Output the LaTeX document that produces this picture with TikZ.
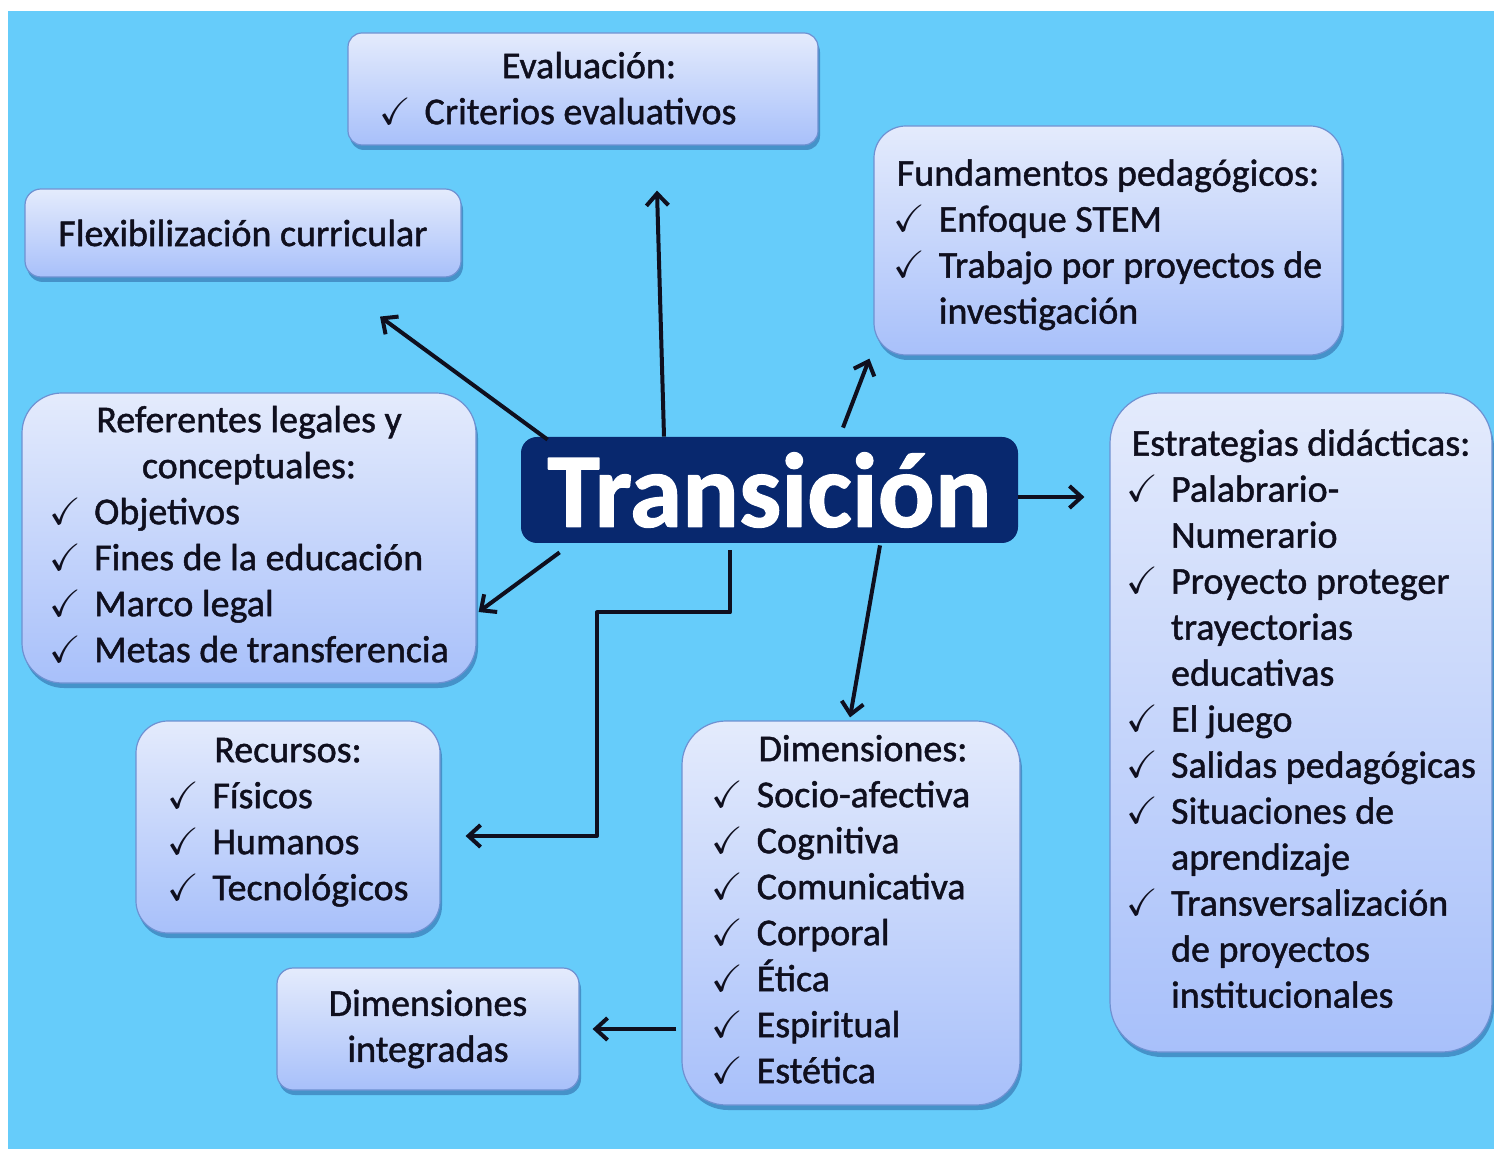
\documentclass[tikz,border=0pt]{standalone}
\usepackage{amsmath,amssymb}
\usepackage{fontspec}
\setmainfont{Carlito}[FakeBold=1.2]
\usepackage{tikz}
\usetikzlibrary{positioning,arrows.meta,calc,shadows}
\definecolor{tBack}{RGB}{102,204,250}
\definecolor{tNavy}{RGB}{8,40,110}
\definecolor{tTop}{RGB}{228,235,252}
\definecolor{tBottom}{RGB}{168,192,250}
\definecolor{tEdge}{RGB}{110,145,210}
\definecolor{tInk}{RGB}{15,15,30}
\newcommand{\ck}{\makebox[22.5pt][l]{$\boldsymbol{\checkmark}$}}
\newcommand{\sk}{\hspace*{22.5pt}}
\tikzset{
    base/.style={font=\fontsize{19}{23}\selectfont, text=tInk, align=center, inner sep=0pt},
    topic/.style={base, rectangle, rounded corners=#1, draw=tEdge, line width=0.6pt,
                  top color=tTop, bottom color=tBottom,
                  drop shadow={opacity=0.35, shadow xshift=1pt, shadow yshift=-2.5pt, fill=tNavy}},
    topic/.default=8pt,
    hub/.style={rectangle, rounded corners=8pt, fill=tNavy, text=white, inner sep=0pt,
                font=\fontsize{53}{60}\selectfont\bfseries},
    flow/.style={-{Straight Barb[length=6pt,width=11pt]}, line width=2pt, draw=tInk}
}
\begin{document}
\begin{tikzpicture}[x=0.5pt, y=-0.5pt, line join=round]
    \useasboundingbox (0,0) rectangle (1494,1149);
    % Background
    \fill[white] (0,0) rectangle (1494,1149);
    \fill[tBack] (8,11) rectangle (1494,1149);

    % Central node
    \node[hub, minimum width=248.5pt, minimum height=53pt] (trans) at (769.5,490) {Transición};

    % Topics
    \node[topic=7pt, minimum width=235pt, minimum height=56pt] (eval) at (583,89) {
        \begin{tabular}{@{}l@{\hspace{25pt}}}
        \noalign{\vspace{3pt}}
        \multicolumn{1}{@{}c@{}}{\hspace*{6pt}Evaluación:}\\
        \ck Criterios evaluativos
        \end{tabular}};
    \node[topic, minimum width=218pt, minimum height=44pt] (flex) at (243,233) {Flexibilización curricular};
    \node[topic=16pt, minimum width=234pt, minimum height=114.5pt] (fund) at (1108,240.5) {
        \begin{tabular}{@{}l@{}}
        \noalign{\vspace{5pt}}
        \multicolumn{1}{@{}c@{}}{Fundamentos pedagógicos:}\\
        \ck Enfoque STEM\\
        \ck Trabajo por proyectos de\\
        \sk investigación
        \end{tabular}};
    \node[topic=25pt, minimum width=191pt, minimum height=329.5pt] (estr) at (1301,722.5) {
        \begin{tabular}{@{}l@{}}
        \multicolumn{1}{@{}c@{}}{Estrategias didácticas:}\\
        \ck Palabrario-\\
        \sk Numerario\\
        \ck Proyecto proteger\\
        \sk trayectorias\\
        \sk educativas\\
        \ck El juego\\
        \ck Salidas pedagógicas\\
        \ck Situaciones de\\
        \sk aprendizaje\\
        \ck Transversalización\\
        \sk de proyectos\\
        \sk institucionales
        \end{tabular}};
    \node[topic=20pt, minimum width=227pt, minimum height=145pt] (refe) at (249,538) {
        \begin{tabular}{@{}l@{}}
        \multicolumn{1}{@{}c@{}}{Referentes legales y}\\
        \multicolumn{1}{@{}c@{}}{conceptuales:}\\
        \ck Objetivos\\
        \ck Fines de la educación\\
        \ck Marco legal\\
        \ck Metas de transferencia
        \end{tabular}};
    \node[topic=16pt, minimum width=152pt, minimum height=106pt] (recu) at (288,827) {
        \begin{tabular}{@{}l@{}}
        \multicolumn{1}{@{}c@{}}{Recursos:}\\
        \ck Físicos\\
        \ck Humanos\\
        \ck Tecnológicos\\
        \noalign{\vspace{5pt}}
        \end{tabular}};
    \node[topic=22pt, minimum width=169pt, minimum height=192pt] (dime) at (851,913) {
        \begin{tabular}{@{}l@{\hspace{10pt}}}
        \multicolumn{1}{@{}c@{}}{\hspace*{12pt}Dimensiones:}\\
        \ck Socio-afectiva\\
        \ck Cognitiva\\
        \ck Comunicativa\\
        \ck Corporal\\
        \ck Ética\\
        \ck Espiritual\\
        \ck Estética
        \end{tabular}};
    \node[topic, minimum width=151pt, minimum height=61pt] (dint) at (428,1029) {Dimensiones\\integradas};

    % Connectors
    \coordinate (estrIn) at ($(trans.east)+(0,7)$);
    \draw[flow] ($(trans.north)+(-105.5,0)$) -- ($(eval.south)+(74,45)$);
    \draw[flow] ($(trans.north west)+(27,3)$) -- ($(flex.south)+(137,39)$);
    \draw[flow] ($(trans.north)+(73.5,-9)$) -- ($(fund.south west)+(-4,3)$);
    \draw[flow, shorten >=12.5pt] (estrIn) -- (estrIn -| estr.west);
    \draw[flow] ($(trans.south west)+(39,9)$) -- ($(refe.east)+(2,74)$);
    \draw[flow] ($(trans.south)+(-39.5,7)$) -- ++(0,62) -- ++(-133,0) |- ($(recu.east)+(25,9)$);
    \draw[flow] ($(trans.south)+(110.5,2)$) -- ($(dime.north)+(-1,-3)$);
    \draw[flow] ($(dime.west)+(-5,116)$) -- ($(dint.east)+(13,0)$);
\end{tikzpicture}
\end{document}
